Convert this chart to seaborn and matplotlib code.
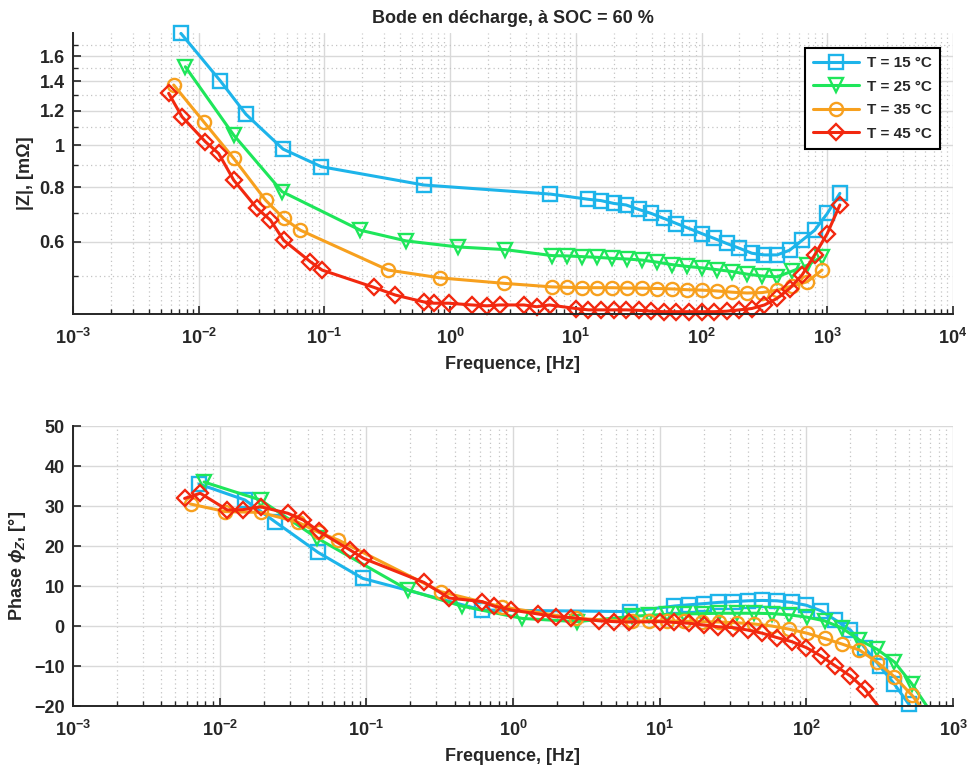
import numpy as np
import pandas as pd
import matplotlib
matplotlib.use("Agg")
import matplotlib.pyplot as plt
import seaborn as sns
from matplotlib.ticker import FixedLocator, FuncFormatter, NullFormatter

# ---------------- data ----------------
labels = ["T = 15 °C", "T = 25 °C", "T = 35 °C", "T = 45 °C"]

f15 = [0.00723, 0.0149, 0.0238, 0.0469, 0.0946, 0.617, 6.28, 12.6, 15.8, 20.0, 25.1, 31.6,
       39.8, 50.1, 63.1, 79.4, 100, 126, 158, 200, 251, 316, 398, 501, 631, 794, 1000, 1259]
z15 = [1.803, 1.402, 1.176, 0.979, 0.892, 0.810, 0.772, 0.751, 0.746, 0.735, 0.729, 0.712,
       0.697, 0.679, 0.661, 0.644, 0.627, 0.611, 0.595, 0.580, 0.565, 0.560, 0.560, 0.574,
       0.605, 0.638, 0.697, 0.775]
p15 = [35.5, 31.5, 26.1, 18.4, 11.9, 4.0, 3.6, 5.0, 5.3, 5.6, 5.9, 6.1, 6.3, 6.4, 6.3, 5.9,
       5.2, 3.8, 1.5, -1.0, -5.5, -10.0, -14.5, -19.6, -27, -34, -40, -46]

f25 = [0.00783, 0.0190, 0.0461, 0.193, 0.446, 1.156, 2.72, 6.47, 8.51, 11.2, 14.7, 19.4,
       25.5, 33.6, 44.3, 58.2, 76.7, 101, 133, 175, 230, 303, 399, 525, 691, 909]
z25 = [1.512, 1.054, 0.782, 0.638, 0.603, 0.584, 0.576, 0.558, 0.557, 0.555, 0.553, 0.550,
       0.548, 0.545, 0.539, 0.532, 0.527, 0.523, 0.518, 0.513, 0.506, 0.501, 0.499, 0.514,
       0.530, 0.555]
p25 = [36.0, 31.5, 22.0, 9.0, 5.0, 1.9, 1.1, 2.4, 2.7, 2.9, 3.0, 3.1, 3.2, 3.2, 3.2, 3.1,
       2.8, 2.2, 1.3, -0.5, -3.5, -5.8, -9.0, -14.5, -21, -28]

f35 = [0.00633, 0.01096, 0.0190, 0.034, 0.0474, 0.0644, 0.321, 0.838, 2.67, 6.47, 8.51,
       11.2, 14.7, 19.4, 25.5, 33.6, 44.3, 58.2, 76.7, 101, 133, 175, 230, 303, 399, 525,
       691, 909]
z35 = [1.373, 1.131, 0.932, 0.748, 0.679, 0.638, 0.517, 0.496, 0.482, 0.473, 0.472, 0.471,
       0.471, 0.471, 0.470, 0.470, 0.469, 0.468, 0.466, 0.465, 0.463, 0.460, 0.458, 0.459,
       0.465, 0.475, 0.486, 0.517]
p35 = [30.5, 28.6, 28.4, 26.0, 23.4, 21.5, 8.6, 4.8, 1.9, 1.2, 1.3, 1.3, 1.2, 1.1, 1.0,
       0.8, 0.5, 0.0, -0.8, -1.8, -3.1, -4.5, -6.0, -9.0, -12.7, -17.3, -23, -29]

f45 = [0.00577, 0.00737, 0.0113, 0.0144, 0.0190, 0.0291, 0.0372, 0.0474, 0.0775, 0.0958,
       0.247, 0.367, 0.617, 0.741, 0.975, 1.49, 1.96, 2.48, 3.86, 4.89, 6.18, 10.0, 12.6,
       15.8, 20.0, 25.1, 31.6, 39.8, 50.1, 63.1, 79.4, 100, 126, 158, 200, 251, 316, 398,
       501, 631, 794, 1000, 1259]
z45 = [1.314, 1.161, 1.018, 0.957, 0.831, 0.716, 0.673, 0.605, 0.540, 0.517, 0.472, 0.453,
       0.437, 0.434, 0.434, 0.430, 0.428, 0.430, 0.430, 0.426, 0.430, 0.422, 0.419, 0.419,
       0.419, 0.419, 0.418, 0.416, 0.415, 0.415, 0.415, 0.415, 0.415, 0.416, 0.419, 0.422,
       0.430, 0.445, 0.469, 0.504, 0.560, 0.627, 0.729]
p45 = [31.9, 33.2, 29.0, 29.1, 29.8, 28.2, 26.5, 23.7, 19.0, 16.9, 10.9, 7.0, 6.1, 5.0,
       4.0, 3.0, 2.3, 2.1, 1.3, 1.1, 1.0, 1.1, 0.9, 0.7, 0.25, -0.2, -0.4, -1.0, -1.8,
       -2.9, -3.9, -5.4, -7.5, -10.0, -12.5, -15.8, -20.5, -25, -30, -35, -40, -46, -52]

zticks = [0.6, 0.8, 1, 1.2, 1.4, 1.6]
zminor = [0.5, 0.7, 0.9, 1.1, 1.3, 1.5, 1.7]
pticks = [-20, -10, 0, 10, 20, 30, 40, 50]
decades_top = [-3, -2, -1, 0, 1, 2, 3, 4]
decades_bot = [-3, -2, -1, 0, 1, 2, 3]

title = "Bode en décharge, à SOC = 60 %"
xlabel = "Frequence, [Hz]"
ylabel_top = "|Z|, [mΩ]"
ylabel_bot = r"Phase $\phi_Z$, [°]"

# ---------------- style ----------------
sns.set_style("ticks")
plt.rcParams['font.family'] = ['Liberation Sans', 'DejaVu Sans']
plt.rcParams['font.weight'] = 'bold'
plt.rcParams['mathtext.fontset'] = 'custom'
plt.rcParams['mathtext.rm'] = 'Liberation Sans'
plt.rcParams['mathtext.bf'] = 'Liberation Sans:bold'
plt.rcParams['mathtext.it'] = 'Liberation Sans:italic'

colors = ["#1db4ea", "#1ee65a", "#f7a01e", "#f2280f"]
markers = ["s", "v", "o", "D"]
msizes = [9.5, 10.5, 9.5, 8.2]

series = [(f15, z15, p15), (f25, z25, p25), (f35, z35, p35), (f45, z45, p45)]

fig = plt.figure(figsize=(9.69, 7.69), dpi=100)
fig.patch.set_facecolor("white")
ax1 = fig.add_axes([0.0753, 0.5917, 0.9082, 0.3654])
ax2 = fig.add_axes([0.0753, 0.0819, 0.9082, 0.3641])

for ax in (ax1, ax2):
    ax.set_xscale("log")
ax1.set_yscale("log")

PLIM = (-20, 50)

for (f, z, p), lab, c, m, ms in zip(series, labels, colors, markers, msizes):
    d = pd.DataFrame({"Frequence": f, "Z": z, "Phase": p})
    sns.lineplot(data=d, x="Frequence", y="Z", ax=ax1, color=c, marker=m,
                 markersize=ms, markeredgewidth=1.7, markerfacecolor="none",
                 markeredgecolor=c, linewidth=2.2, label=lab, clip_on=False,
                 sort=False, estimator=None)
    # phase: line clipped to axes, markers drawn for points inside the limits
    sns.lineplot(data=d, x="Frequence", y="Phase", ax=ax2, color=c, linewidth=2.2,
                 sort=False, estimator=None, legend=False)
    din = d[(d["Phase"] >= PLIM[0]) & (d["Phase"] <= PLIM[1])]
    sns.lineplot(data=din, x="Frequence", y="Phase", ax=ax2, color=c, marker=m,
                 markersize=ms, markeredgewidth=1.7, markerfacecolor="none",
                 markeredgecolor=c, linestyle="none", clip_on=False,
                 sort=False, estimator=None, legend=False)

# ---------------- axes formatting ----------------
pow_fmt = FuncFormatter(lambda v, _: r"$\mathbf{10^{%d}}$" % int(round(np.log10(v))))

ax1.set_xlim(1e-3, 1e4)
ax1.set_ylim(0.41, 1.807)
ax2.set_xlim(1e-3, 1e3)
ax2.set_ylim(*PLIM)

for ax, decs in ((ax1, decades_top), (ax2, decades_bot)):
    majors = [10.0 ** k for k in decs]
    minors = [s * 10.0 ** k for k in decs[:-1] for s in range(2, 10)]
    ax.xaxis.set_major_locator(FixedLocator(majors))
    ax.xaxis.set_minor_locator(FixedLocator(minors))
    ax.xaxis.set_major_formatter(pow_fmt)
    ax.xaxis.set_minor_formatter(NullFormatter())
    ax.set_axisbelow(True)
    ax.grid(which="major", color="#d9d9d9", linestyle="-", linewidth=1.0)
    ax.grid(which="minor", axis="x", color="#c4c4c4", linestyle=(0, (1, 2.5)), linewidth=0.9)
    for s in ("top", "right"):
        ax.spines[s].set_visible(False)
    for s in ("left", "bottom"):
        ax.spines[s].set_color("#262626")
        ax.spines[s].set_linewidth(1.4)
    ax.tick_params(which="both", direction="in", top=False, right=False,
                   color="#262626", labelsize=13)
    ax.tick_params(which="major", length=6, width=1.2)
    ax.tick_params(which="minor", length=3.5, width=1.0)
    ax.tick_params(axis="x", which="major", pad=10)
    ax.tick_params(axis="y", which="major", pad=6)
    ax.set_xlabel(xlabel, fontsize=13, fontweight="bold", labelpad=6)
    for t in ax.get_yticklabels():
        t.set_fontweight("bold")

ax1.yaxis.set_major_locator(FixedLocator(zticks))
ax1.yaxis.set_minor_locator(FixedLocator(zminor))
ax1.yaxis.set_major_formatter(FuncFormatter(lambda v, _: f"{v:g}"))
ax1.yaxis.set_minor_formatter(NullFormatter())
ax1.grid(which="minor", axis="y", color="#c4c4c4", linestyle=(0, (1, 2.5)), linewidth=0.9)

ax2.yaxis.set_major_locator(FixedLocator(pticks))
ax2.yaxis.set_minor_locator(FixedLocator([]))

ax1.set_ylabel(ylabel_top, fontsize=13, fontweight="bold")
ax2.set_ylabel(ylabel_bot, fontsize=13, fontweight="bold")
ax1.set_title(title, fontsize=13, fontweight="bold", pad=7)

leg = ax1.legend(loc="upper right", bbox_to_anchor=(0.985, 0.947), frameon=True,
                 fancybox=False, edgecolor="black", framealpha=1,
                 prop={"weight": "bold", "size": 11}, handlelength=3.0,
                 borderpad=0.55, labelspacing=0.62, handletextpad=0.5,
                 borderaxespad=0)
leg.get_frame().set_linewidth(1.5)

fig.savefig("out.png", dpi=100, facecolor="white")
